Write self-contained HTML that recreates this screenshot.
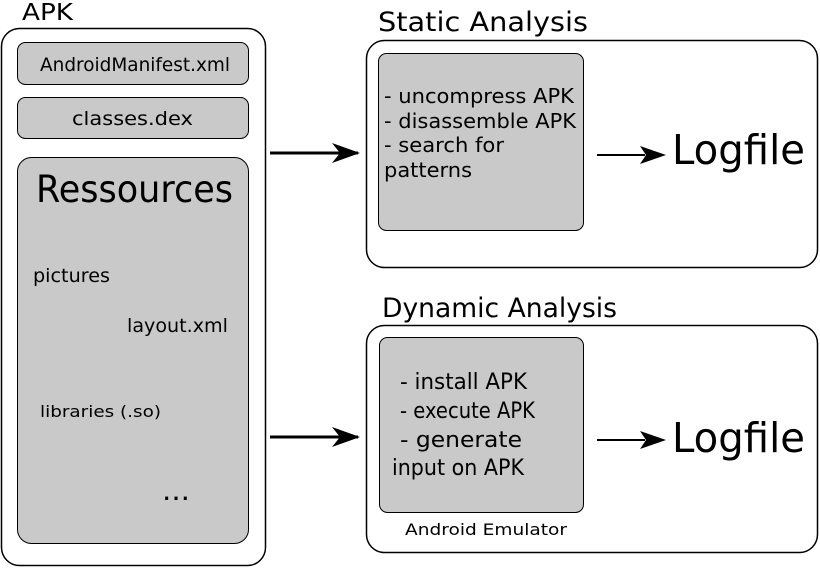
<!DOCTYPE html>
<html><head><meta charset="utf-8"><style>
html,body{margin:0;padding:0;background:#fff;}
svg{display:block;font-family:"DejaVu Sans","Liberation Sans",sans-serif;}
</style></head><body>
<svg width="820" height="568" viewBox="0 0 820 568" xmlns="http://www.w3.org/2000/svg">
<text x="22" y="20" font-size="23" textLength="51" lengthAdjust="spacingAndGlyphs">APK</text>
<rect x="1.5" y="28.5" width="264" height="537" rx="18" fill="#fff" stroke="#000" stroke-width="1.5"/>
<rect x="17.5" y="42.5" width="231" height="42" rx="8" fill="#c9c9c9" stroke="#000" stroke-width="1"/>
<text x="40" y="71" font-size="19" textLength="190" lengthAdjust="spacingAndGlyphs">AndroidManifest.xml</text>
<rect x="17.5" y="97.5" width="231" height="41" rx="8" fill="#c9c9c9" stroke="#000" stroke-width="1"/>
<text x="72" y="125" font-size="19" textLength="121" lengthAdjust="spacingAndGlyphs">classes.dex</text>
<rect x="17.5" y="157.5" width="231" height="386" rx="14" fill="#c9c9c9" stroke="#000" stroke-width="1"/>
<text x="36" y="202" font-size="37" textLength="197" lengthAdjust="spacingAndGlyphs">Ressources</text>
<text x="33" y="282" font-size="19" textLength="77" lengthAdjust="spacingAndGlyphs">pictures</text>
<text x="127" y="332" font-size="19" textLength="101" lengthAdjust="spacingAndGlyphs">layout.xml</text>
<text x="40" y="417" font-size="16" textLength="121" lengthAdjust="spacingAndGlyphs">libraries (.so)</text>
<text x="162" y="500" font-size="28" textLength="28" lengthAdjust="spacingAndGlyphs">...</text>

<line x1="270" y1="153" x2="358" y2="153" stroke="#000" stroke-width="3"/>
<path d="M332,143 L360,153 L332,163 L340,153 Z" fill="#000"/>
<line x1="270" y1="437" x2="358" y2="437" stroke="#000" stroke-width="3"/>
<path d="M332,427 L360,437 L332,447 L340,437 Z" fill="#000"/>

<text x="378" y="31" font-size="27" textLength="210" lengthAdjust="spacingAndGlyphs">Static Analysis</text>
<rect x="366.5" y="40.5" width="451" height="227" rx="18" fill="#fff" stroke="#000" stroke-width="1.5"/>
<rect x="378.5" y="53.5" width="205" height="177" rx="8" fill="#c9c9c9" stroke="#000" stroke-width="1"/>
<g font-size="20">
<text x="384" y="103" textLength="190" lengthAdjust="spacingAndGlyphs">- uncompress APK</text>
<text x="384" y="128" textLength="192" lengthAdjust="spacingAndGlyphs">- disassemble APK</text>
<text x="384" y="152" textLength="120" lengthAdjust="spacingAndGlyphs">- search for</text>
<text x="384" y="177" textLength="88" lengthAdjust="spacingAndGlyphs">patterns</text>
</g>
<line x1="597" y1="155" x2="645" y2="155" stroke="#000" stroke-width="2"/>
<path d="M640,146 L666,155 L640,164 L646,155 Z" fill="#000"/>
<text x="672" y="164" font-size="41" textLength="133" lengthAdjust="spacingAndGlyphs">Logfile</text>

<text x="382" y="317" font-size="27" textLength="235" lengthAdjust="spacingAndGlyphs">Dynamic Analysis</text>
<rect x="366.5" y="325.5" width="451" height="227" rx="18" fill="#fff" stroke="#000" stroke-width="1.5"/>
<rect x="379.5" y="337.5" width="204" height="175" rx="8" fill="#c9c9c9" stroke="#000" stroke-width="1"/>
<g font-size="22">
<text x="400" y="389" textLength="127" lengthAdjust="spacingAndGlyphs">- install APK</text>
<text x="400" y="418" textLength="135" lengthAdjust="spacingAndGlyphs">- execute APK</text>
<text x="400" y="447" textLength="122" lengthAdjust="spacingAndGlyphs">- generate</text>
<text x="392" y="475" textLength="132" lengthAdjust="spacingAndGlyphs">input on APK</text>
</g>
<text x="405" y="535" font-size="16" textLength="162" lengthAdjust="spacingAndGlyphs">Android Emulator</text>
<line x1="597" y1="440" x2="645" y2="440" stroke="#000" stroke-width="2"/>
<path d="M640,431 L666,440 L640,449 L646,440 Z" fill="#000"/>
<text x="672" y="452" font-size="41" textLength="133" lengthAdjust="spacingAndGlyphs">Logfile</text>
</svg>
</body></html>
